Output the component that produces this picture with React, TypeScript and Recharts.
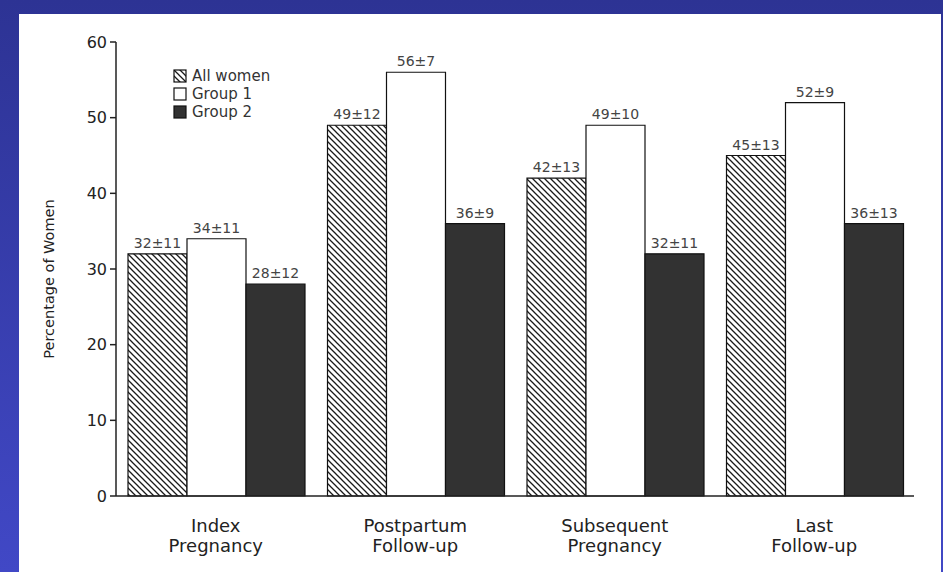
import React from "react";
import { BarChart, Bar, XAxis, YAxis, LabelList } from "recharts";

const categories = [
  ["Index", "Pregnancy"],
  ["Postpartum", "Follow-up"],
  ["Subsequent", "Pregnancy"],
  ["Last", "Follow-up"],
];
const allWomen = [32, 49, 42, 45];
const allWomenSD = [11, 12, 13, 13];
const group1 = [34, 56, 49, 52];
const group1SD = [11, 7, 10, 9];
const group2 = [28, 36, 32, 36];
const group2SD = [12, 9, 11, 13];
const yTicks = [0, 10, 20, 30, 40, 50, 60];
const seriesNames = ["All women", "Group 1", "Group 2"];
const yTitle = "Percentage of Women";

const data = categories.map((c, i) => ({
  name: c.join("\n"),
  all: allWomen[i],
  allLabel: `${allWomen[i]}±${allWomenSD[i]}`,
  g1: group1[i],
  g1Label: `${group1[i]}±${group1SD[i]}`,
  g2: group2[i],
  g2Label: `${group2[i]}±${group2SD[i]}`,
}));

const FONT = "'DejaVu Sans', sans-serif";
const INK = "#222";

const CatTick = (props: any) => {
  const { x, y, payload } = props;
  const lines = String(payload.value).split("\n");
  return (
    <text x={x} y={y} textAnchor="middle" fill={INK} fontSize={18} fontFamily={FONT}>
      {lines.map((l, i) => (
        <tspan key={i} x={x} dy={i === 0 ? 28 : 20}>
          {l}
        </tspan>
      ))}
    </text>
  );
};

const YTitle = (props: any) => {
  const vb = props.viewBox || {};
  const cx = (vb.x || 0) + 49;
  const cy = (vb.y || 0) + (vb.height || 0) / 2 + 10;
  return (
    <text
      x={cx}
      y={cy}
      transform={`rotate(-90, ${cx}, ${cy})`}
      textAnchor="middle"
      dominantBaseline="central"
      fill={INK}
      fontSize={14.5}
      fontFamily={FONT}
    >
      {yTitle}
    </text>
  );
};

const fills = ["url(#hatchPattern)", "#ffffff", "#323232"];

const LegendBox = () => (
  <div
    style={{
      position: "absolute",
      left: 173,
      top: 67,
      fontFamily: FONT,
      fontSize: 15,
      color: "#333",
      lineHeight: "18px",
    }}
  >
    {seriesNames.map((n, i) => (
      <div key={n} style={{ display: "flex", alignItems: "center", height: 18, whiteSpace: "nowrap" }}>
        <svg width={14} height={14} style={{ marginRight: 5 }}>
          <rect x={1} y={1} width={12} height={12} fill={fills[i]} stroke="#111" strokeWidth={1.2} />
        </svg>
        <span>{n}</span>
      </div>
    ))}
  </div>
);

export default function App() {
  return (
    <div style={{ position: "absolute", left: 0, top: 0, width: 943, height: 572, overflow: "hidden" }}>
      <div
        style={{
          position: "absolute",
          left: 0,
          top: 0,
          width: 943,
          height: 572,
          background: "linear-gradient(to bottom, #2d3394, #4148c6)",
        }}
      />
      <div style={{ position: "absolute", left: 19, top: 14, width: 922, height: 558, background: "#ffffff" }} />
      <svg width={0} height={0} style={{ position: "absolute" }}>
        <defs>
          <pattern id="hatchPattern" patternUnits="userSpaceOnUse" width={6} height={6}>
            <rect x={0} y={0} width={6} height={6} fill="#ffffff" />
            <path d="M-1,-1 L7,7 M-1,5 L1,7 M5,-1 L7,1" stroke="#1a1a1a" strokeWidth={1.3} />
          </pattern>
        </defs>
      </svg>
      <div style={{ position: "absolute", left: 0, top: 0 }}>
        <BarChart
          width={943}
          height={572}
          data={data}
          margin={{ top: 42, right: 29, bottom: 0, left: 0 }}
          barCategoryGap={12}
          barGap={0}
        >
          <XAxis
            dataKey="name"
            tick={<CatTick />}
            tickLine={false}
            axisLine={{ stroke: INK, strokeWidth: 1.5 }}
            interval={0}
            height={76}
          />
          <YAxis
            width={116}
            domain={[0, 60]}
            ticks={yTicks}
            interval={0}
            tickSize={6}
            tickMargin={3}
            axisLine={{ stroke: INK, strokeWidth: 1.5 }}
            tickLine={{ stroke: INK, strokeWidth: 1.5 }}
            tick={{ fill: INK, fontSize: 16, fontFamily: FONT }}
            label={<YTitle />}
          />
          <Bar dataKey="all" name={seriesNames[0]} fill={fills[0]} stroke="#111" strokeWidth={1.2} isAnimationActive={false}>
            <LabelList dataKey="allLabel" position="top" offset={6} fill="#444" fontSize={14} fontFamily={FONT} />
          </Bar>
          <Bar dataKey="g1" name={seriesNames[1]} fill={fills[1]} stroke="#111" strokeWidth={1.2} isAnimationActive={false}>
            <LabelList dataKey="g1Label" position="top" offset={6} fill="#444" fontSize={14} fontFamily={FONT} />
          </Bar>
          <Bar dataKey="g2" name={seriesNames[2]} fill={fills[2]} stroke="#111" strokeWidth={1.2} isAnimationActive={false}>
            <LabelList dataKey="g2Label" position="top" offset={6} fill="#444" fontSize={14} fontFamily={FONT} />
          </Bar>
        </BarChart>
      </div>
      <LegendBox />
    </div>
  );
}
